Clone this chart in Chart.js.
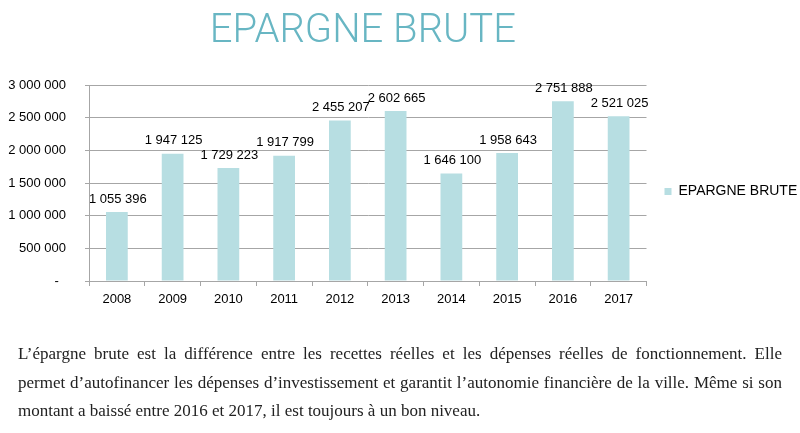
<!DOCTYPE html>
<html lang="fr">
<head>
<meta charset="utf-8">
<script src="https://cdn.jsdelivr.net/npm/chart.js@4.4.1/dist/chart.umd.min.js"></script>
<style>
  html, body { margin: 0; padding: 0; background: #fff; }
  body { width: 800px; height: 433px; position: relative; overflow: hidden; }
  #chartBox { position: absolute; left: 0; top: 0; width: 800px; height: 383px; }
  #texte {
    position: absolute; left: 18px; top: 340px; width: 764px;
    font-family: "Liberation Serif", serif; font-size: 17px; color: #222;
  }
  #texte div { height: 28.5px; line-height: 28.5px; white-space: nowrap; text-align: justify; text-align-last: justify; }
  #texte div.last { text-align-last: left; }
</style>
</head>
<body>
<div id="chartBox"><canvas id="myChart"></canvas></div>
<div id="texte">
  <div>L’épargne brute est la différence entre les recettes réelles et les dépenses réelles de fonctionnement. Elle</div>
  <div>permet d’autofinancer les dépenses d’investissement et garantit l’autonomie financière de la ville. Même si son</div>
  <div class="last">montant a baissé entre 2016 et 2017, il est toujours à un bon niveau.</div>
</div>
<script>
const years = ['2008', '2009', '2010', '2011', '2012', '2013', '2014', '2015', '2016', '2017'];
const epargneBrute = [1055396, 1947125, 1729223, 1917799, 2455207, 2602665, 1646100, 1958643, 2751888, 2521025];
const yTicks = [0, 500000, 1000000, 1500000, 2000000, 2500000, 3000000];

const gridGray = '#a6a6a6';
const barColor = '#b7dee2';
const arial = '"Liberation Sans", Arial, sans-serif';

function formatNombre(v) {
  if (v === 0) return '-\u00a0\u00a0';
  return String(Math.round(v)).replace(/\B(?=(\d{3})+(?!\d))/g, ' ');
}

// valeurs au-dessus des barres
const valueLabels = {
  id: 'valueLabels',
  afterDatasetsDraw(chart) {
    const ctx = chart.ctx;
    const meta = chart.getDatasetMeta(0);
    ctx.save();
    ctx.font = '13px ' + arial;
    ctx.fillStyle = '#000';
    ctx.textAlign = 'center';
    ctx.textBaseline = 'middle';
    meta.data.forEach((bar, i) => {
      ctx.fillText(formatNombre(epargneBrute[i]), bar.x + 1, bar.y - 13);
    });
    ctx.restore();
  },
};

const config = {
  type: 'bar',
  data: {
    labels: years,
    datasets: [
      {
        label: 'EPARGNE BRUTE',
        data: epargneBrute,
        backgroundColor: barColor,
        borderWidth: 0,
        barPercentage: 0.39,
        categoryPercentage: 1,
      },
    ],
  },
  options: {
    responsive: true,
    maintainAspectRatio: false,
    animation: false,
    layout: {
      padding: 0,
    },
    plugins: {
      title: {
        display: true,
        fullSize: false,
        text: 'EPARGNE BRUTE\u00a0',
        color: '#68b6c3',
        font: { size: 40, weight: 300, family: 'Roboto, sans-serif', lineHeight: 1.2 },
        padding: { top: 8, bottom: 29 },
      },
      legend: {
        position: 'right',
        maxWidth: 153.5,
        labels: {
          boxWidth: 7,
          boxHeight: 7,
          padding: 18,
          color: '#000',
          font: { size: 14, family: arial },
        },
      },
      tooltip: { enabled: false },
    },
    scales: {
      x: {
        afterFit(scale) { scale.height = 102; },
        grid: {
          offset: true,
          drawOnChartArea: false,
          drawTicks: true,
          tickLength: 5,
          color: gridGray,
        },
        border: { color: gridGray },
        ticks: {
          padding: 6,
          color: '#000',
          font: { size: 13, family: arial },
        },
      },
      y: {
        min: 0,
        max: 3000000,
        afterFit(scale) { scale.width = 89; },
        afterBuildTicks(scale) { scale.ticks = yTicks.map((v) => ({ value: v })); },
        grid: {
          color: gridGray,
          tickLength: 4,
        },
        border: { color: gridGray },
        ticks: {
          padding: 19,
          color: '#000',
          font: { size: 13, family: arial },
          callback: (v) => formatNombre(v),
        },
      },
    },
  },
  plugins: [valueLabels],
};

const ctx = document.getElementById('myChart').getContext('2d');
new Chart(ctx, config);
</script>
</body>
</html>
